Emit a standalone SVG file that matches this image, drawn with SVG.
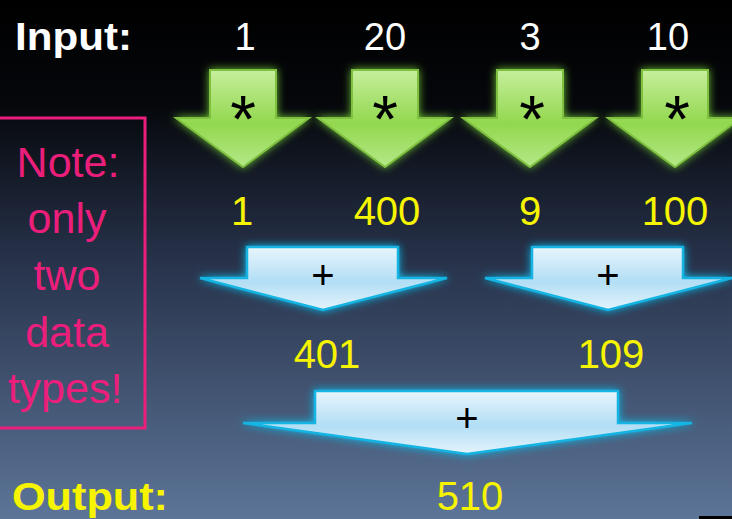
<svg xmlns="http://www.w3.org/2000/svg" width="732" height="519" viewBox="0 0 732 519">
<defs>
<linearGradient id="bg" x1="0" y1="0" x2="0" y2="1">
<stop offset="0" stop-color="#000000"/>
<stop offset="0.2" stop-color="#05070b"/>
<stop offset="0.5" stop-color="#27324a"/>
<stop offset="1" stop-color="#5c7598"/>
</linearGradient>
<linearGradient id="gfill" x1="0" y1="0" x2="0" y2="1">
<stop offset="0" stop-color="#c6ee9c"/>
<stop offset="0.55" stop-color="#92d84e"/>
<stop offset="1" stop-color="#b4e888"/>
</linearGradient>
<linearGradient id="bfill" x1="0" y1="0" x2="0" y2="1">
<stop offset="0" stop-color="#e8f5fc"/>
<stop offset="0.55" stop-color="#b2def5"/>
<stop offset="1" stop-color="#e4f3fb"/>
</linearGradient>
<filter id="glowG" x="-20%" y="-20%" width="140%" height="140%">
<feGaussianBlur in="SourceAlpha" stdDeviation="4" result="b"/>
<feFlood flood-color="#6cc030" flood-opacity="1"/>
<feComposite in2="b" operator="in" result="g"/>
<feMerge><feMergeNode in="g"/><feMergeNode in="SourceGraphic"/></feMerge>
</filter>
<filter id="glowB" x="-20%" y="-20%" width="140%" height="140%">
<feGaussianBlur in="SourceAlpha" stdDeviation="4" result="b"/>
<feFlood flood-color="#10b8e8" flood-opacity="1"/>
<feComposite in2="b" operator="in" result="g"/>
<feMerge><feMergeNode in="g"/><feMergeNode in="SourceGraphic"/></feMerge>
</filter>
</defs>
<style>
.w{fill:#ffffff;font-family:"Liberation Sans",Arial,sans-serif;font-size:38px;text-anchor:middle}
.y{fill:#f6f400;font-family:"Liberation Sans",Arial,sans-serif;font-size:40px;text-anchor:middle}
.lbl{font-family:"Liberation Sans",Arial,sans-serif;font-weight:bold;font-size:38px}
.pk{fill:#ec1e7c;font-family:"Liberation Sans",Arial,sans-serif;font-size:43px;text-anchor:middle}
.ga{fill:url(#gfill);stroke:#80c040;stroke-width:2;filter:url(#glowG)}
.ba{fill:url(#bfill);stroke:#12b4e2;stroke-width:2.5;filter:url(#glowB)}
.st{fill:#000;font-family:"Liberation Sans",Arial,sans-serif;font-size:66px;text-anchor:middle}
.op{fill:#000;font-family:"Liberation Sans",Arial,sans-serif;font-size:40px;text-anchor:middle}
</style>
<rect width="732" height="519" fill="url(#bg)"/>

<g id="labels">
<text class="lbl" x="15" y="50" fill="#ffffff" textLength="117" lengthAdjust="spacingAndGlyphs">Input:</text>
<text class="lbl" x="12" y="510" fill="#f6f400" textLength="156" lengthAdjust="spacingAndGlyphs">Output:</text>
</g>

<g id="inputs">
<text class="w" x="245" y="50">1</text>
<text class="w" x="385" y="50">20</text>
<text class="w" x="530" y="50">3</text>
<text class="w" x="668" y="50">10</text>
</g>

<g id="mul1"><path class="ga" d="M210 70 H276 V118 H309 L243 167 L176 118 H210 Z"/><text class="st" x="243" y="142">*</text></g>
<g id="mul2"><path class="ga" d="M352 70 H418 V118 H451 L385 167 L318 118 H352 Z"/><text class="st" x="385" y="142">*</text></g>
<g id="mul3"><path class="ga" d="M497 70 H563 V118 H596 L530 167 L463 118 H497 Z"/><text class="st" x="532" y="142">*</text></g>
<g id="mul4"><path class="ga" d="M642 70 H708 V118 H741 L675 167 L608 118 H642 Z"/><text class="st" x="677" y="142">*</text></g>

<g id="squares">
<text class="y" x="242" y="225">1</text>
<text class="y" x="387" y="225">400</text>
<text class="y" x="530" y="225">9</text>
<text class="y" x="675" y="225">100</text>
</g>

<g id="add1"><path class="ba" d="M247 247 H398 V278 H447 L323 310 L200 278 H247 Z"/><text class="op" x="323" y="289">+</text></g>
<g id="add2"><path class="ba" d="M532 247 H683 V278 H732 L608 310 L485 278 H532 Z"/><text class="op" x="608" y="289">+</text></g>

<g id="sums">
<text class="y" x="327" y="368">401</text>
<text class="y" x="611" y="368">109</text>
</g>

<g id="add3"><path class="ba" d="M315 391 H618 V423 H692 L467 454 L243 423 H315 Z"/><text class="op" x="467" y="432">+</text></g>

<g id="result"><text class="y" x="470" y="510">510</text></g>

<g id="note">
<rect x="-2" y="118" width="147" height="310" fill="none" stroke="#ec1e7c" stroke-width="3"/>
<text class="pk" x="68" y="177">Note:</text>
<text class="pk" x="67" y="233">only</text>
<text class="pk" x="67" y="290">two</text>
<text class="pk" x="67" y="347">data</text>
<text class="pk" x="65" y="403">types!</text>
</g>
<rect x="699" y="516" width="33" height="3" fill="#000"/>
</svg>
